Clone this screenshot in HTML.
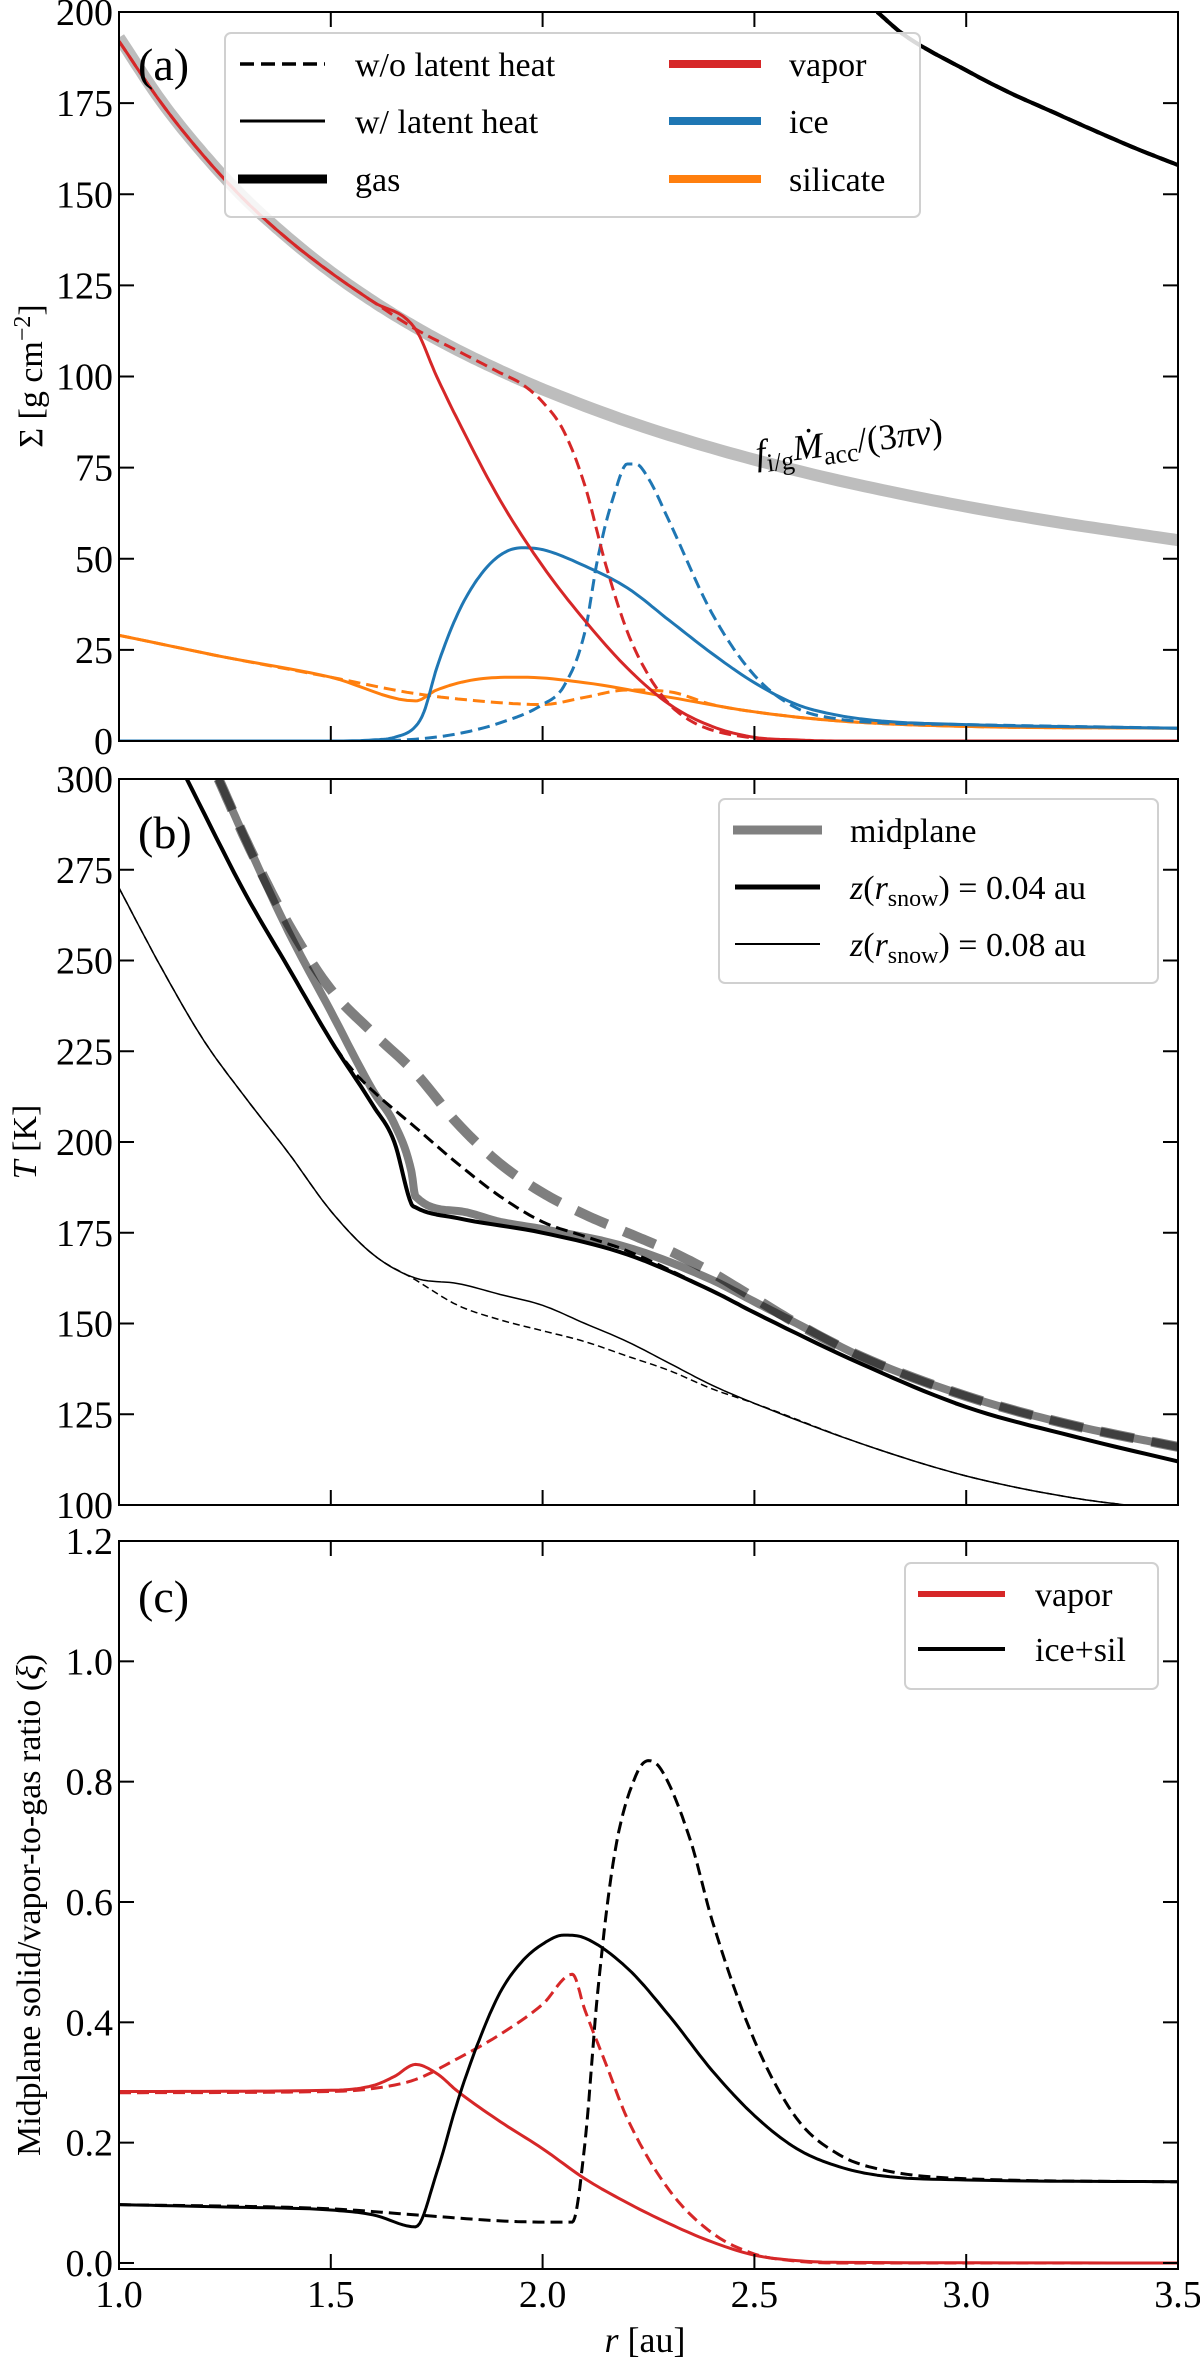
<!DOCTYPE html>
<html><head><meta charset="utf-8"><style>
body{margin:0;background:#fff}
svg{display:block}
text{font-family:"Liberation Serif","DejaVu Serif",serif;fill:#000}
</style></head><body>
<svg id="fig" width="1200" height="2361" viewBox="0 0 1200 2361"></svg>
<script>
// ---------- Panel (a) data: surface density ----------
const rEnv=[1.0,1.1,1.2,1.3,1.4,1.5,1.6,1.7,1.8,1.9,2.0,2.2,2.4,2.6,2.8,3.0,3.2,3.4,3.5];
const sigEnv=[193,175.5,161,148.5,138,128.7,120.6,113.5,107.2,101.6,96.5,87.7,80.4,74.2,68.9,64.3,60.3,56.8,55.1];
const rGas=[2.79,2.85,3.0,3.1,3.2,3.3,3.4,3.5];
const sigGas=[200,194,184,178,172.8,167.6,162.6,158];
const rVapS=[1.0,1.1,1.2,1.3,1.4,1.5,1.6,1.7,1.75,1.8,1.9,2.0,2.1,2.2,2.3,2.4,2.5,2.6,2.7,3.5];
const sigVapS=[192,175,160.5,148,137.5,128.5,120.5,113,100,88,66,48,33,20,10,4,1,0.3,0,0];
const rVapD=[1.0,1.1,1.2,1.3,1.4,1.5,1.6,1.7,1.8,1.9,1.95,2.0,2.05,2.1,2.15,2.2,2.25,2.3,2.35,2.4,2.5,2.6,2.7,3.5];
const sigVapD=[192,175,160.5,148,137.5,128.5,120.5,113,107,101,98,93,85,70,48,30,18,10,5.5,3,0.8,0.1,0,0];
const rIceS=[1.0,1.5,1.6,1.65,1.7,1.72,1.75,1.8,1.85,1.9,1.95,2.0,2.1,2.2,2.3,2.4,2.5,2.6,2.7,2.8,3.0,3.5];
const sigIceS=[0,0,0.3,1,4,8,20,35,45,51,53,52.5,48,42,33,24,16,10,7,5.5,4.5,3.5];
const rIceD=[1.0,1.6,1.7,1.8,1.9,2.0,2.05,2.1,2.13,2.17,2.2,2.22,2.25,2.3,2.4,2.5,2.6,2.7,2.8,3.0,3.5];
const sigIceD=[0,0,0.5,2,5,10,15,30,50,68,76,76,72,60,35,18,9,6,5,4.5,3.5];
const rSilS=[1.0,1.25,1.5,1.7,1.75,1.85,1.95,2.1,2.3,2.5,2.7,3.0,3.5];
const sigSilS=[29,23,17.5,11,14,17,17.5,16,12,8,5.5,4,3.5];
const rSilD=[1.0,1.25,1.5,1.7,1.9,2.0,2.1,2.2,2.3,2.4,2.5,2.7,3.0,3.5];
const sigSilD=[29,23,17.5,13,10.5,10,12,14,13.5,10,8,5.5,4,3.5];
// ---------- Panel (b) data: temperature ----------
const rMidS=[1.235,1.3,1.4,1.5,1.6,1.65,1.69,1.7,1.8,1.9,2.0,2.2,2.4,2.5,2.6,2.75,3.0,3.25,3.5];
const tMidS=[300,283,258,236,214,205,192,185,181,178,176,171,162,156,150,141,130,122,116];
const rMidD=[1.235,1.3,1.4,1.5,1.6,1.7,1.8,1.9,2.0,2.1,2.2,2.3,2.4,2.5,2.6,2.75,3.0,3.25,3.5];
const tMidD=[300,283,260,242,230,219,205,194,186,180,175,170,164,157,150,141,130,122,116];
const rZ4S=[1.16,1.3,1.4,1.5,1.6,1.65,1.69,1.7,1.8,2.0,2.2,2.4,2.5,2.75,3.0,3.25,3.5];
const tZ4S=[300,268,248,228,210,200,183,182,179,175,169,159,153,139,127,119,112];
const rZ4D=[1.16,1.3,1.4,1.5,1.55,1.6,1.7,1.8,1.9,2.0,2.1,2.2,2.4,2.5,2.75,3.0,3.25,3.5];
const tZ4D=[300,268,248,228,220,214,204,194,185,178,174,170,159,153,139,127,119,112];
const rZ8S=[1.0,1.1,1.2,1.3,1.4,1.5,1.6,1.7,1.8,1.9,2.0,2.1,2.2,2.3,2.4,2.5,2.75,3.0,3.25,3.41];
const tZ8S=[270,248,228,212,197,181,169,162.5,161,158,155,150,145,139,133,128,117,108,102,99.5];
const rZ8D=[1.0,1.1,1.2,1.3,1.4,1.5,1.6,1.7,1.8,1.9,2.0,2.1,2.2,2.3,2.4,2.5,2.75,3.0,3.25,3.41];
const tZ8D=[270,248,228,212,197,181,169,162,155,151,148,145,141,137,132,128,117,108,102,99.5];
// ---------- Panel (c) data: ratios ----------
const rVapCS=[1.0,1.5,1.6,1.65,1.7,1.75,1.8,1.9,2.0,2.1,2.2,2.3,2.4,2.5,2.6,2.7,3.5];
const xVapCS=[0.285,0.287,0.295,0.31,0.33,0.315,0.285,0.235,0.19,0.14,0.1,0.065,0.035,0.013,0.004,0.001,0];
const rVapCD=[1.0,1.5,1.6,1.7,1.8,1.9,2.0,2.07,2.1,2.15,2.2,2.3,2.4,2.5,2.6,2.7,3.5];
const xVapCD=[0.283,0.285,0.29,0.305,0.34,0.38,0.43,0.48,0.42,0.33,0.24,0.12,0.05,0.015,0.003,0,0];
const rSolS=[1.0,1.25,1.5,1.6,1.7,1.75,1.8,1.85,1.9,1.95,2.0,2.05,2.1,2.2,2.3,2.4,2.5,2.6,2.7,2.8,3.0,3.5];
const xSolS=[0.097,0.093,0.088,0.08,0.06,0.15,0.27,0.37,0.45,0.5,0.53,0.545,0.54,0.49,0.41,0.32,0.245,0.19,0.16,0.145,0.138,0.135];
const rSolD=[1.0,1.5,1.7,1.9,2.0,2.07,2.1,2.13,2.17,2.22,2.25,2.28,2.35,2.4,2.5,2.6,2.7,2.8,3.0,3.5];
const xSolD=[0.097,0.09,0.08,0.07,0.068,0.068,0.2,0.45,0.68,0.81,0.835,0.82,0.7,0.57,0.37,0.24,0.18,0.155,0.14,0.135];
const xTicks=[1.0,1.5,2.0,2.5,3.0,3.5];
const yTicksA=[0,25,50,75,100,125,150,175,200];
const yTicksB=[100,125,150,175,200,225,250,275,300];
const yTicksC=[0.0,0.2,0.4,0.6,0.8,1.0,1.2];

const NS='http://www.w3.org/2000/svg';
const svg=document.getElementById('fig');
const L=119,R=1178;
const sx=r=>L+(r-1)/2.5*(R-L);
const panels={
 a:{top:12,bot:741,y0:0,y1:200},
 b:{top:779,bot:1505,y0:100,y1:300},
 c:{top:1541,bot:2269,y0:-0.01,y1:1.2}
};
function sy(p,v){const P=panels[p];return P.bot-(v-P.y0)/(P.y1-P.y0)*(P.bot-P.top);}
function el(tag,attrs,parent){const e=document.createElementNS(NS,tag);for(const k in attrs)e.setAttribute(k,attrs[k]);(parent||svg).appendChild(e);return e;}
function clip(p){const P=panels[p];const c=el('clipPath',{id:'clip'+p});el('rect',{x:L,y:P.top,width:R-L,height:P.bot-P.top},c);}
['a','b','c'].forEach(clip);
// monotone cubic (Fritsch-Carlson) sampling
function smooth(xs,ys){
 const n=xs.length;if(n<3)return xs.map((x,i)=>[x,ys[i]]);
 const d=[],m=[];
 for(let i=0;i<n-1;i++)d.push((ys[i+1]-ys[i])/(xs[i+1]-xs[i]));
 m[0]=d[0];m[n-1]=d[n-2];
 for(let i=1;i<n-1;i++){m[i]=(d[i-1]*d[i]<=0)?0:(d[i-1]+d[i])/2;}
 for(let i=0;i<n-1;i++){if(d[i]===0){m[i]=0;m[i+1]=0;continue;}
  const a=m[i]/d[i],b=m[i+1]/d[i],s=a*a+b*b;if(s>9){const t=3/Math.sqrt(s);m[i]=t*a*d[i];m[i+1]=t*b*d[i];}}
 const out=[];
 for(let i=0;i<n-1;i++){const h=xs[i+1]-xs[i];const N=10;
  for(let k=0;k<N;k++){const t=k/N,t2=t*t,t3=t2*t;
   const y=(2*t3-3*t2+1)*ys[i]+(t3-2*t2+t)*h*m[i]+(-2*t3+3*t2)*ys[i+1]+(t3-t2)*h*m[i+1];
   out.push([xs[i]+t*h,y]);}}
 out.push([xs[n-1],ys[n-1]]);return out;
}
function line(p,xs,ys,stroke,w,dash,name,op){
 const pts=smooth(xs,ys);
 const d=pts.map((q,i)=>(i?'L':'M')+sx(q[0]).toFixed(1)+','+sy(p,q[1]).toFixed(1)).join(' ');
 const e=el('path',{d:d,fill:'none',stroke:stroke,'stroke-width':w,'clip-path':'url(#clip'+p+')','stroke-linejoin':'round'});
 if(dash)e.setAttribute('stroke-dasharray',dash);
 if(op)e.setAttribute('stroke-opacity',op);
 
 
 return e;
}
function axes(p,yt,fmt,showX){
 const P=panels[p];
 const g=el('g',{});
 
 
 el('rect',{x:L,y:P.top,width:R-L,height:P.bot-P.top,fill:'none',stroke:'#000','stroke-width':2},g);
 xTicks.forEach(t=>{const x=sx(t);
  el('line',{x1:x,x2:x,y1:P.bot,y2:P.bot-15,stroke:'#000','stroke-width':2},g);
  el('line',{x1:x,x2:x,y1:P.top,y2:P.top+15,stroke:'#000','stroke-width':2},g);
  if(showX){const tx=el('text',{x:x,y:P.bot+38,'font-size':38,'text-anchor':'middle'},g);tx.textContent=t.toFixed(1);
   }
 });
 yt.forEach(t=>{const y=sy(p,t);
  el('line',{x1:L,x2:L+15,y1:y,y2:y,stroke:'#000','stroke-width':2},g);
  el('line',{x1:R,x2:R-15,y1:y,y2:y,stroke:'#000','stroke-width':2},g);
  const tx=el('text',{x:L-6,y:y+13,'font-size':38,'text-anchor':'end'},g);tx.textContent=fmt(t);
  
 });
}
// Panel a
line('a',rEnv,sigEnv,'#bdbdbd',12,null,'envelope-curve');
line('a',rGas,sigGas,'#000',4,'14,6','gas-no-latent');
line('a',rGas,sigGas,'#000',4,null,'gas-latent');
line('a',rSilD,sigSilD,'#ff7f0e',3,'12,6','silicate-no-latent');
line('a',rSilS,sigSilS,'#ff7f0e',3,null,'silicate-latent');
line('a',rIceD,sigIceD,'#1f77b4',3,'12,6','ice-no-latent');
line('a',rIceS,sigIceS,'#1f77b4',3,null,'ice-latent');
line('a',rVapD,sigVapD,'#d62728',3,'12,6','vapor-no-latent');
line('a',rVapS,sigVapS,'#d62728',3,null,'vapor-latent');
axes('a',yTicksA,t=>String(t),false);
// Panel b
line('b',rMidS,tMidS,'#000',8,null,'midplane-latent','0.5');
line('b',rMidD,tMidD,'#000',10,'34,18','midplane-no-latent','0.5');
line('b',rZ4D,tZ4D,'#000',3,'12,6','z004-no-latent');
line('b',rZ4S,tZ4S,'#000',4,null,'z004-latent');
line('b',rZ8D,tZ8D,'#000',1.5,'7,4','z008-no-latent');
line('b',rZ8S,tZ8S,'#000',1.5,null,'z008-latent');
axes('b',yTicksB,t=>String(t),false);
// Panel c
line('c',rVapCD,xVapCD,'#d62728',3,'12,6','vapor-ratio-no-latent');
line('c',rVapCS,xVapCS,'#d62728',3,null,'vapor-ratio-latent');
line('c',rSolD,xSolD,'#000',3,'12,6','solid-ratio-no-latent');
line('c',rSolS,xSolS,'#000',3,null,'solid-ratio-latent');
axes('c',yTicksC,t=>t.toFixed(1),true);
</script>
<svg width="1200" height="2361" style="position:absolute;left:0;top:0">
 <text x="138" y="80" font-size="46">(a)</text>
 <text x="138" y="848" font-size="46">(b)</text>
 <text x="138" y="1612" font-size="46">(c)</text>
 <g>
  <rect x="225" y="33" width="695" height="184" rx="6" fill="#fff" fill-opacity="0.85" stroke="#d0d0d0" stroke-width="2"/>
  <line x1="240" y1="64" x2="325" y2="64" stroke="#000" stroke-width="3.5" stroke-dasharray="14,7"/>
  <text x="355" y="76" font-size="34">w/o latent heat</text>
  <line x1="240" y1="121" x2="325" y2="121" stroke="#000" stroke-width="3"/>
  <text x="355" y="133" font-size="34">w/ latent heat</text>
  <line x1="238" y1="179" x2="327" y2="179" stroke="#000" stroke-width="9"/>
  <text x="355" y="191" font-size="34">gas</text>
  <line x1="669" y1="64" x2="761" y2="64" stroke="#d62728" stroke-width="8"/>
  <text x="789" y="76" font-size="34">vapor</text>
  <line x1="669" y1="121" x2="761" y2="121" stroke="#1f77b4" stroke-width="8"/>
  <text x="789" y="133" font-size="34">ice</text>
  <line x1="669" y1="179" x2="761" y2="179" stroke="#ff7f0e" stroke-width="8"/>
  <text x="789" y="191" font-size="34">silicate</text>
 </g>
 <text x="757" y="465" font-size="36" font-style="italic" transform="rotate(-7 757 465)">f<tspan font-size="26" font-style="normal" dy="8">i/g</tspan><tspan dy="-8">Ṁ</tspan><tspan font-size="26" font-style="normal" dy="8">acc</tspan><tspan dy="-8" font-style="normal">/(3</tspan>πν<tspan font-style="normal">)</tspan></text>
 <g>
  <rect x="719" y="799" width="439" height="184" rx="6" fill="#fff" fill-opacity="0.85" stroke="#d0d0d0" stroke-width="2"/>
  <line x1="733" y1="830" x2="822" y2="830" stroke="#808080" stroke-width="9"/>
  <text x="850" y="842" font-size="34">midplane</text>
  <line x1="735" y1="887" x2="820" y2="887" stroke="#000" stroke-width="5"/>
  <text x="850" y="899" font-size="34"><tspan font-style="italic">z</tspan>(<tspan font-style="italic">r</tspan><tspan font-size="24" dy="7">snow</tspan><tspan dy="-7">) = 0.04 au</tspan></text>
  <line x1="735" y1="944" x2="820" y2="944" stroke="#000" stroke-width="2"/>
  <text x="850" y="956" font-size="34"><tspan font-style="italic">z</tspan>(<tspan font-style="italic">r</tspan><tspan font-size="24" dy="7">snow</tspan><tspan dy="-7">) = 0.08 au</tspan></text>
 </g>
 <g>
  <rect x="905" y="1563" width="253" height="126" rx="6" fill="#fff" fill-opacity="0.85" stroke="#d0d0d0" stroke-width="2"/>
  <line x1="918" y1="1594" x2="1005" y2="1594" stroke="#d62728" stroke-width="6"/>
  <text x="1035" y="1606" font-size="34">vapor</text>
  <line x1="918" y1="1649" x2="1005" y2="1649" stroke="#000" stroke-width="4"/>
  <text x="1035" y="1661" font-size="34">ice+sil</text>
 </g>
 <text transform="translate(42 376) rotate(-90)" font-size="34" text-anchor="middle">Σ [g cm<tspan font-size="24" dy="-12">−2</tspan><tspan dy="12">]</tspan></text>
 <text transform="translate(36 1142) rotate(-90)" font-size="34" text-anchor="middle"><tspan font-style="italic">T</tspan> [K]</text>
 <text transform="translate(40 1905) rotate(-90)" font-size="34" text-anchor="middle">Midplane solid/vapor-to-gas ratio (<tspan font-style="italic">ξ</tspan>)</text>
 <text x="645" y="2352" font-size="36" text-anchor="middle"><tspan font-style="italic">r</tspan> [au]</text>
</svg>
</body></html>
